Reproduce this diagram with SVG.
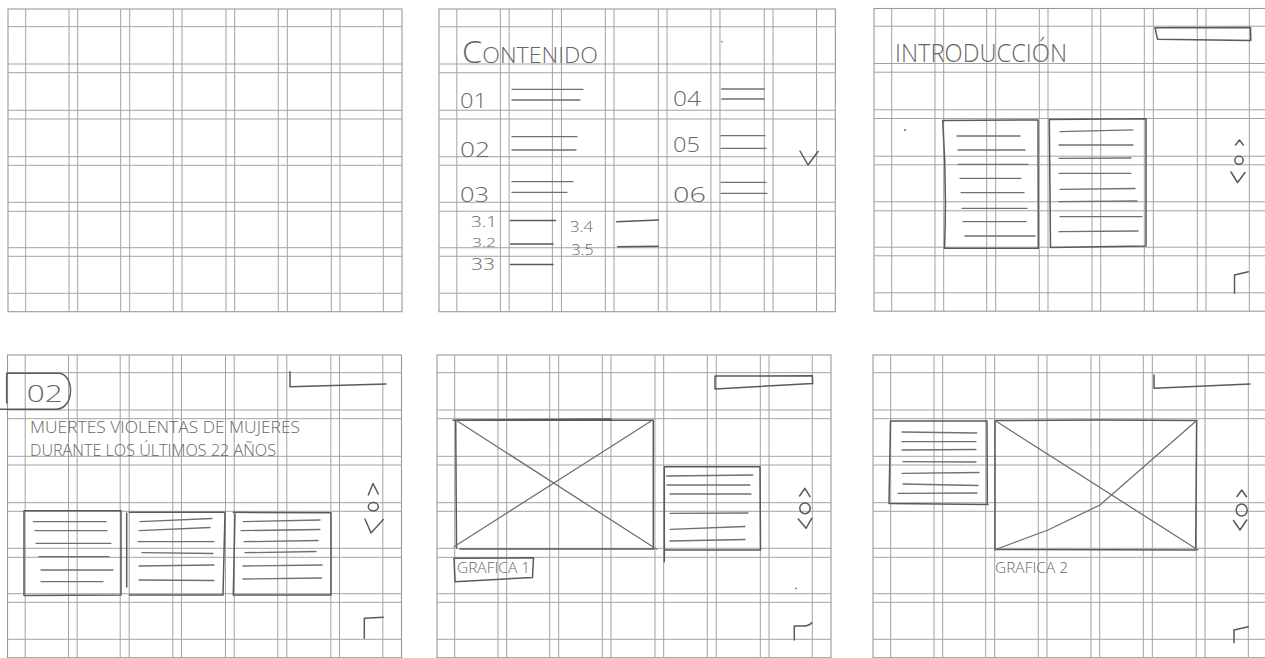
<svg xmlns="http://www.w3.org/2000/svg" xmlns:xlink="http://www.w3.org/1999/xlink" width="1265" height="658" viewBox="0 0 1265 658">
<style>
.g{fill:none;stroke:#a3a3a3;stroke-width:1}
.f{fill:none;stroke:#9a9a9a;stroke-width:1.1}
.p{fill:none;stroke:#5a5a5a;stroke-width:1.5;stroke-linecap:round;stroke-linejoin:round}
.l{fill:none;stroke:#707070;stroke-width:1.3;stroke-linecap:round}
.t{fill:#666666;font-family:"Open Sans","Liberation Sans",sans-serif;font-weight:300}
.d{fill:#666}
</style>
<defs>
<g id="grid">
<rect class="f" x="0" y="0" width="394" height="302.7"/>
<path class="g" d="M17.7 0V302.7M61 0V302.7M69.7 0V302.7M112.7 0V302.7M121.7 0V302.7M165.3 0V302.7M174 0V302.7M218 0V302.7M226.7 0V302.7M270.3 0V302.7M279.3 0V302.7M323.3 0V302.7M332 0V302.7M375.3 0V302.7"/>
<path class="g" d="M0 17.7H394M0 55H394M0 63.7H394M0 101.3H394M0 110H394M0 147.7H394M0 156.3H394M0 193.3H394M0 202.3H394M0 238.7H394M0 247.3H394M0 284.3H394"/>
</g>
</defs>
<rect width="1265" height="658" fill="#ffffff"/>

<g id="panel1">
<use xlink:href="#grid" transform="translate(8,9)"/>
</g>

<g id="panel2">
<use xlink:href="#grid" transform="translate(439,9) scale(1.006,1)"/>
<text class="t" x="462" y="63" font-size="22" textLength="136" lengthAdjust="spacingAndGlyphs"><tspan font-size="31">C</tspan>ONTENIDO</text>
<circle class="d" cx="722" cy="41.7" r="0.8"/>
<text class="t" x="460" y="108" font-size="21" textLength="27" lengthAdjust="spacingAndGlyphs">01</text>
<text class="t" x="460" y="157" font-size="21" textLength="30" lengthAdjust="spacingAndGlyphs">02</text>
<text class="t" x="460" y="202" font-size="21" textLength="29" lengthAdjust="spacingAndGlyphs">03</text>
<text class="t" x="673" y="106" font-size="21" textLength="28" lengthAdjust="spacingAndGlyphs">04</text>
<text class="t" x="673" y="152" font-size="21" textLength="27" lengthAdjust="spacingAndGlyphs">05</text>
<text class="t" x="673" y="202" font-size="21" textLength="33" lengthAdjust="spacingAndGlyphs">06</text>
<path class="l" d="M512 89.3H583M512 100H580M512 136.7H577M512 150H576M512 181.7H573M512 192.3H567M721.7 89H764.3M721.7 99H764.3M721 135.7H765M721 148.3H766M721 182.3H766M721 193.3H767"/>
<text class="t" x="471" y="226.5" font-size="15" textLength="26" lengthAdjust="spacingAndGlyphs">3.1</text>
<text class="t" x="472" y="246.5" font-size="13" textLength="24" lengthAdjust="spacingAndGlyphs">3.2</text>
<text class="t" x="471" y="269.5" font-size="16" textLength="24" lengthAdjust="spacingAndGlyphs">33</text>
<text class="t" x="570" y="232" font-size="15" textLength="23" lengthAdjust="spacingAndGlyphs">3.4</text>
<text class="t" x="571.5" y="255" font-size="15" textLength="22" lengthAdjust="spacingAndGlyphs">3.5</text>
<path class="p" d="M510.5 220.5H555.5M510.5 244H553M510.5 264.5H553M616.7 221.7L658.3 220M617.7 246.7L658.3 246.2"/>
<polyline class="p" stroke-width="2.2" points="800,151 808,165 818,151.5"/>
</g>

<g id="panel3">
<use xlink:href="#grid" transform="translate(874,8.5)"/>
<text class="t" x="895" y="62" font-size="25" textLength="172" lengthAdjust="spacingAndGlyphs">INTRODUCCIÓN</text>
<path class="p" d="M1155 27.8L1250.5 27.5L1250.8 40.5L1157.5 39.2Z"/>
<circle class="d" cx="905" cy="130" r="1"/>
<path class="p" d="M942.7 120.5L1038 120L1038.3 248.3L944.5 248.2Q947 185 942.7 120.5Z"/>
<path class="l" d="M957 136H1020M958 150H1025M958 164.3H1028M960 178.3H1021M961 192.7H1024M962 208.3H1027M963 221.7H1026M965 236H1035"/>
<path class="p" d="M1049.3 119.5L1146 118.8L1146 246L1050.5 247.5Z"/>
<path class="l" d="M1060 131.7L1133 129.8M1059 145H1133M1059 158.3L1131 158M1059 173.3H1131M1060 189.3L1135 188.5M1059 201.7L1137 201M1060 216.7H1142M1059 231.7L1138 231"/>
<polyline class="p" points="1235.5,145 1239.5,140 1243.3,145"/>
<ellipse class="p" cx="1239" cy="160.3" rx="4.2" ry="4"/>
<polyline class="p" stroke-width="2.4" points="1231,172 1237.5,182.5 1245,172.5"/>
<path class="p" stroke-width="1.8" d="M1234.5 293.3V275L1248.3 271.7"/>
</g>

<g id="panel4">
<use xlink:href="#grid" transform="translate(7.5,355)"/>
<path class="p" d="M6.7 373.3H58C75 373.3 75 409 56 409.3H0M6.7 373.3V403"/>
<text class="t" x="26.7" y="401.7" font-size="23" textLength="36" lengthAdjust="spacingAndGlyphs">02</text>
<text class="t" x="30" y="433" font-size="17" textLength="270" lengthAdjust="spacingAndGlyphs">MUERTES VIOLENTAS DE MUJERES</text>
<text class="t" x="30" y="455.5" font-size="17" textLength="246" lengthAdjust="spacingAndGlyphs">DURANTE LOS ÚLTIMOS 22 AÑOS</text>
<path class="p" d="M290 371.7V386.7L386 384"/>
<polyline class="p" points="368.3,495 373,483.5 378.3,494"/>
<ellipse class="p" cx="373.3" cy="506.7" rx="5" ry="4.2"/>
<polyline class="p" stroke-width="2.2" points="365,519 371,533 383.3,519.5"/>
<path class="p" d="M24 510.7L121 510.7L121 595L24 595.5Z"/>
<path class="l" d="M33.3 521.7H106M35 530.7H107M36 543.3H111M39 556.7H109M41 570H113M41 581.7H103"/>
<path class="p" d="M129.3 512.3L225 512.3L223 595L129.3 595M126.7 513V587"/>
<path class="l" d="M140 521.7L212 518.5M139 530.7L210 527.5M138 541.7H214M142 552.7L213 553.5M139 566L214 565M139 580L214 580.5"/>
<path class="p" d="M233.3 512.3L331 512.8L331 595L233.3 595L235 512.5"/>
<path class="l" d="M243.3 521.7L320 520M241 530.7L320 529.5M244 541.7L318 540.5M245 552.7L316 551.5M243 566L322 565M243 579L321.5 578"/>
<path class="p" stroke-width="1.8" d="M364.3 638.3V618.3L383.3 617.3"/>
</g>

<g id="panel5">
<use xlink:href="#grid" transform="translate(437,355)"/>
<path class="p" d="M715 376V389L812.7 383.5L812.3 375.8Z"/>
<path class="p" d="M455.7 420L611 419M453 420.3H653.3V548.3M654 549H460M455.7 420L456.5 548.3"/>
<path class="l" d="M455.7 420L656.7 549.3M454 546.7L652.7 420"/>
<path class="p" d="M454 558.3L533.5 557.8L532.5 577.5L455 581.7Z"/>
<text class="t" x="457" y="573.3" font-size="14" textLength="73" lengthAdjust="spacingAndGlyphs">GRAFICA 1</text>
<path class="p" d="M664.3 466.7H760L760.5 550H664.3M664.3 466.7V561.7"/>
<path class="l" d="M666.7 476L752.7 475M667 485H750M670 494H751M670 513.3L748 513M670 529.3L745 526.5M670 541L745 539.5"/>
<polyline class="p" points="799.5,496 805,488.3 810,496.7"/>
<ellipse class="p" cx="805" cy="508.3" rx="5.2" ry="5.4"/>
<polyline class="p" points="798.3,519 806,528.3 811.7,518.3"/>
<circle class="d" cx="796" cy="588.3" r="0.9"/>
<path class="p" stroke-width="1.6" d="M794.3 640V626H805Q810 625 811.7 622.7"/>
</g>

<g id="panel6">
<use xlink:href="#grid" transform="translate(873,355)"/>
<path class="p" d="M1154 375V388.3L1250 384"/>
<path class="p" d="M890.5 421H987L987.3 504M988 504.5L889 503.5L890.5 421"/>
<path class="l" d="M902 432L976.7 433M902 441.7L976 441.7M902 450L976 449.5M903 461.7L976 462M902 473.3L979 472.5M903 484L978 485.5M898 493.3L977 493"/>
<path class="p" d="M995 420.5L1099 420L1196.7 420.5L1195.7 550L995 549.5ZM995 420.5V550"/>
<path class="l" d="M995 420.5L1198 550M995.5 549.5L1048 530L1100 505L1196.7 420.5"/>
<text class="t" x="995" y="573.3" font-size="14" textLength="73" lengthAdjust="spacingAndGlyphs">GRAFICA 2</text>
<polyline class="p" points="1237,496.5 1241.7,490 1246.5,496.7"/>
<ellipse class="p" cx="1241.7" cy="510" rx="5.5" ry="6"/>
<polyline class="p" points="1233.5,520.5 1240,530 1246.7,520"/>
<path class="p" stroke-width="1.8" d="M1234 642.7V630L1248.3 626.7"/>
</g>
</svg>
